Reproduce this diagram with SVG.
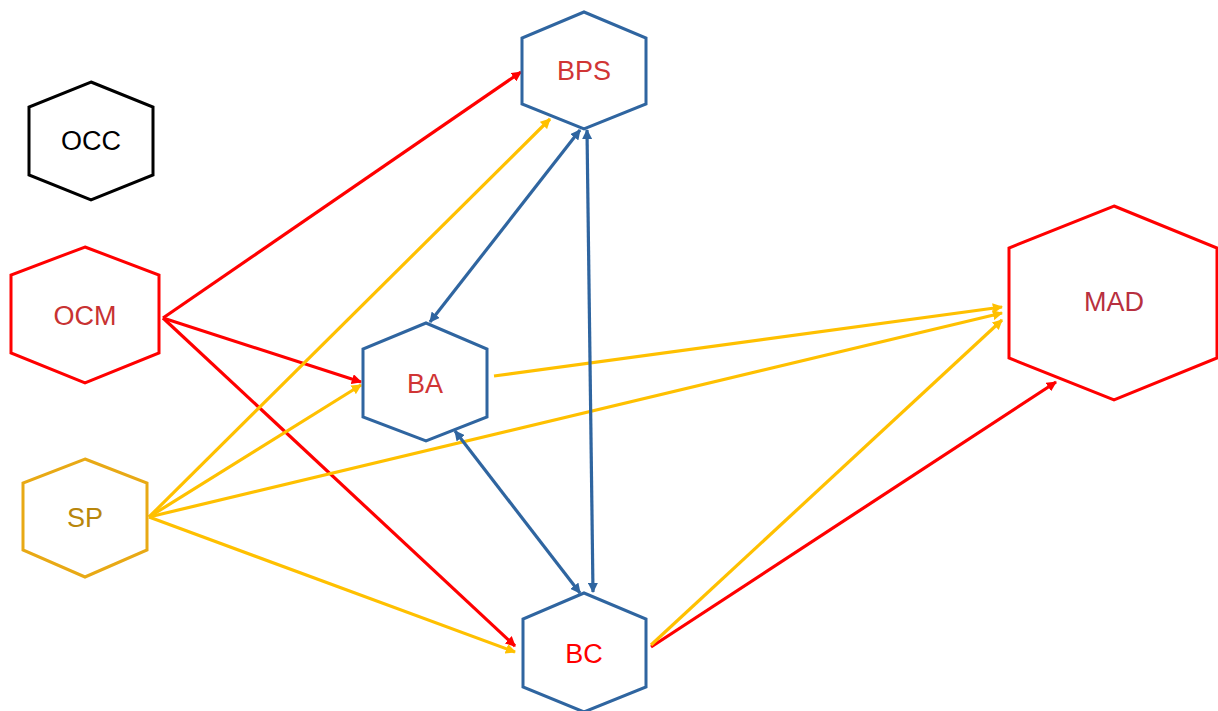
<svg xmlns="http://www.w3.org/2000/svg" width="1218" height="711" viewBox="0 0 1218 711">
<defs>
<marker id="ar" viewBox="0 0 10 10" refX="9" refY="5" markerWidth="3.2" markerHeight="3.2" orient="auto" markerUnits="strokeWidth"><path d="M0,0 L10,5 L0,10 z" fill="#FF0000"/></marker>
<marker id="ay" viewBox="0 0 10 10" refX="9" refY="5" markerWidth="3.2" markerHeight="3.2" orient="auto" markerUnits="strokeWidth"><path d="M0,0 L10,5 L0,10 z" fill="#FFC000"/></marker>
<marker id="ab" viewBox="0 0 10 10" refX="9" refY="5" markerWidth="3.2" markerHeight="3.2" orient="auto-start-reverse" markerUnits="strokeWidth"><path d="M0,0 L10,5 L0,10 z" fill="#2F65A0"/></marker>
</defs>
<style>
.hex{fill:#fff;stroke-width:3;stroke-linejoin:miter}
.lbl{font-family:"Liberation Sans",Arial,sans-serif;font-size:27px;text-anchor:middle;dominant-baseline:central}
.r{stroke:#FF0000;stroke-width:3.2;fill:none;marker-end:url(#ar)}
.y{stroke:#FFC000;stroke-width:3.2;fill:none;marker-end:url(#ay)}
.b{stroke:#2F65A0;stroke-width:3.2;fill:none;marker-end:url(#ab);marker-start:url(#ab)}
</style>
<rect width="1218" height="711" fill="#fff"/>
<g id="connectors">
<line class="r" x1="163" y1="318" x2="521" y2="72"/>
<line class="r" x1="163" y1="318" x2="361" y2="382"/>
<line class="r" x1="163" y1="318" x2="515" y2="646"/>
<line class="r" x1="651" y1="647" x2="1056" y2="382"/>
<line class="y" x1="149" y1="517" x2="550" y2="119"/>
<line class="y" x1="149" y1="517" x2="361" y2="385"/>
<line class="y" x1="149" y1="517" x2="1002" y2="313"/>
<line class="y" x1="149" y1="517" x2="515" y2="652"/>
<line class="y" x1="494" y1="376" x2="1002" y2="307"/>
<line class="y" x1="651" y1="645" x2="1002" y2="320"/>
<line class="b" x1="580" y1="130" x2="430" y2="322"/>
<line class="b" x1="587" y1="130" x2="593" y2="592"/>
<line class="b" x1="455" y1="431" x2="580" y2="593"/>
</g>
<g id="OCC">
<polygon class="hex" stroke="#000" points="91,82 153,107 153,175 91,200 29,175 29,107"/>
<text class="lbl" x="91" y="141" fill="#000">OCC</text>
</g>
<g id="OCM">
<polygon class="hex" stroke="#FF0000" points="85,247 159,275 159,353 85,383 11,353 11,275"/>
<text class="lbl" x="85" y="316" fill="#C83232">OCM</text>
</g>
<g id="SP">
<polygon class="hex" stroke="#E8A915" points="85,459 147,483 147,550 85,577 23,550 23,483"/>
<text class="lbl" x="85" y="518" fill="#B8860B">SP</text>
</g>
<g id="BPS">
<polygon class="hex" stroke="#2F65A0" points="584,12 646,38 646,104 584,129 522,104 522,38"/>
<text class="lbl" x="584" y="71" fill="#D03535">BPS</text>
</g>
<g id="BA">
<polygon class="hex" stroke="#2F65A0" points="426,323 487,349 487,417 426,441 363,417 363,349"/>
<text class="lbl" x="425" y="384" fill="#D03535">BA</text>
</g>
<g id="BC">
<polygon class="hex" stroke="#2F65A0" points="584,593 646,619 646,687 584,712 523,687 523,619"/>
<text class="lbl" x="584" y="654" fill="#FF0000">BC</text>
</g>
<g id="MAD">
<polygon class="hex" stroke="#FF0000" points="1114,206 1217,248 1217,358 1114,400 1009,358 1009,248"/>
<text class="lbl" x="1114" y="302" fill="#B83040">MAD</text>
</g>
</svg>
